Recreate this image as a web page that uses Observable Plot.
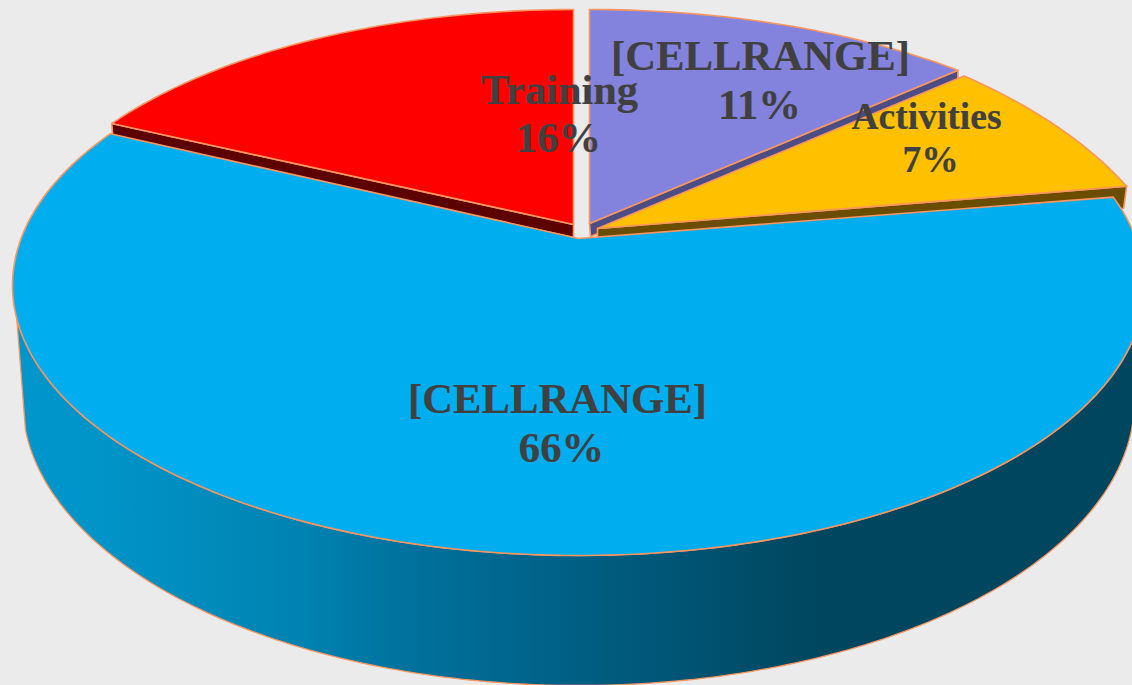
<!DOCTYPE html>
<html>
<head>
<meta charset="utf-8">
<script src="https://cdn.jsdelivr.net/npm/d3@7"></script>
<script src="https://cdn.jsdelivr.net/npm/@observablehq/plot@0.6"></script>
<style>
html,body{margin:0;padding:0;background:#ebebeb;overflow:hidden;width:1132px;height:685px}
</style>
</head>
<body>
<div id="chart"></div>
<script>
// Chart values as labelled in the picture
const names = ["[CELLRANGE]", "Activities", "[CELLRANGE]", "Training"];
const shares = [11, 7, 66, 16];
// Where each wedge's edges fall on its drawn rim (degrees clockwise from 12 o'clock)
const edgeFrom = [0, 39.6, 70.9, 304.6];
const edgeTo = [39.6, 64.8, 304.2, 360];

// Exploded, perspective-drawn rims: [centre x, centre y, radius x, radius y, tip x, tip y]
const rims = [
  [589, 274, 578, 265, 589, 223],
  [576, 322, 608, 320, 597, 228],
  [578, 285, 566, 270, 578, 238],
  [573, 273, 561, 264, 573, 224]
];
const topFills = ["#8383de", "#ffc000", "#00aeef", "#ff0000"];
const wallFills = ["#4d4d85", "#6b4d00", null, "#5c0000"];
const wallDrop = [[0, 14], [-3, 22], null, [1, 12]];
const edgeColor = "#f9955f";

const rad = Math.PI / 180;
const onRim = (r, deg) => ({x: r[0] + r[2] * Math.sin(deg * rad), y: r[1] - r[3] * Math.cos(deg * rad)});
const wedge = i => {
  const r = rims[i], pts = [{x: r[4], y: r[5]}];
  for (const d of d3.range(edgeFrom[i], edgeTo[i], 1)) pts.push(onRim(r, d));
  pts.push(onRim(r, edgeTo[i]), {x: r[4], y: r[5]});
  return pts;
};
// Inner cut wall: runs down from a wedge's straight edge
const cutWall = (i, deg) => {
  const r = rims[i], e = onRim(r, deg), [dx, dy] = wallDrop[i];
  const tip = {x: r[4], y: r[5]};
  return [tip, e, {x: e.x + dx, y: e.y + dy}, {x: tip.x + (i === 0 ? 1 : 0), y: tip.y + (i === 1 ? 10 : 13)}, tip];
};
// Outer wall of the large wedge: front arc of its top rim, back along a lower rim
const lowerRim = [578, 400, 556, 285];
const outerWall = () => {
  const pts = [];
  for (const d of d3.range(97, 264, 1)) pts.push(onRim(rims[2], d));
  for (const d of d3.range(264, 89, -1)) pts.push(onRim(lowerRim, d));
  pts.push(pts[0]);
  return pts;
};
const shape = (pts, fill, strokeWidth = 1.6) =>
  Plot.line(pts, {x: "x", y: "y", fill, stroke: edgeColor, strokeWidth, curve: "linear"});

// Label rows
const labelRows = [
  {x: 760, y: 56, t: names[0], s: 42.7},
  {x: 926, y: 116, t: names[1], s: 37.5},
  {x: 557, y: 399, t: names[2], s: 42.7},
  {x: 559, y: 90, t: names[3], s: 42.4},
  {x: 759, y: 105, t: shares[0] + "%", s: 42.7},
  {x: 930, y: 159, t: shares[1] + "%", s: 37.5},
  {x: 561, y: 448, t: shares[2] + "%", s: 42.7},
  {x: 558, y: 138, t: shares[3] + "%", s: 42.7}
];

const chart = Plot.plot({
  width: 1132,
  height: 685,
  margin: 0,
  style: {background: "#ebebeb", overflow: "hidden"},
  x: {domain: [0, 1132], range: [0, 1132], axis: null},
  y: {domain: [0, 685], range: [0, 685], axis: null},
  marks: [
    () => {
      const defs = d3.create("svg:defs");
      const g = defs.append("linearGradient").attr("id", "outerWall")
        .attr("gradientUnits", "userSpaceOnUse")
        .attr("x1", 0).attr("x2", 1132).attr("y1", 0).attr("y2", 0);
      [[0, "#0096cc"], [0.09, "#0094c8"], [0.27, "#0082b0"], [0.35, "#00739f"], [0.5, "#006085"], [0.72, "#00465f"], [1, "#00465f"]]
        .forEach(([o, c]) => g.append("stop").attr("offset", o).attr("stop-color", c));
      return defs.node();
    },
    shape(outerWall(), "url(#outerWall)", 1.3),
    shape(cutWall(3, edgeFrom[3]), wallFills[3]),
    shape(wedge(3), topFills[3]),
    shape(cutWall(0, edgeTo[0]), wallFills[0]),
    shape(wedge(0), topFills[0]),
    shape(cutWall(1, edgeTo[1]), wallFills[1]),
    shape(wedge(1), topFills[1]),
    shape(wedge(2), topFills[2]),
    Plot.text(labelRows, {
      x: "x", y: "y", text: "t", fontSize: "s", fontWeight: "bold",
      fontFamily: "Liberation Serif", fill: "#404040", stroke: "#404040", strokeWidth: 0.2,
      textAnchor: "middle", lineAnchor: "middle"
    })
  ]
});
document.getElementById("chart").appendChild(chart);
</script>
</body>
</html>
